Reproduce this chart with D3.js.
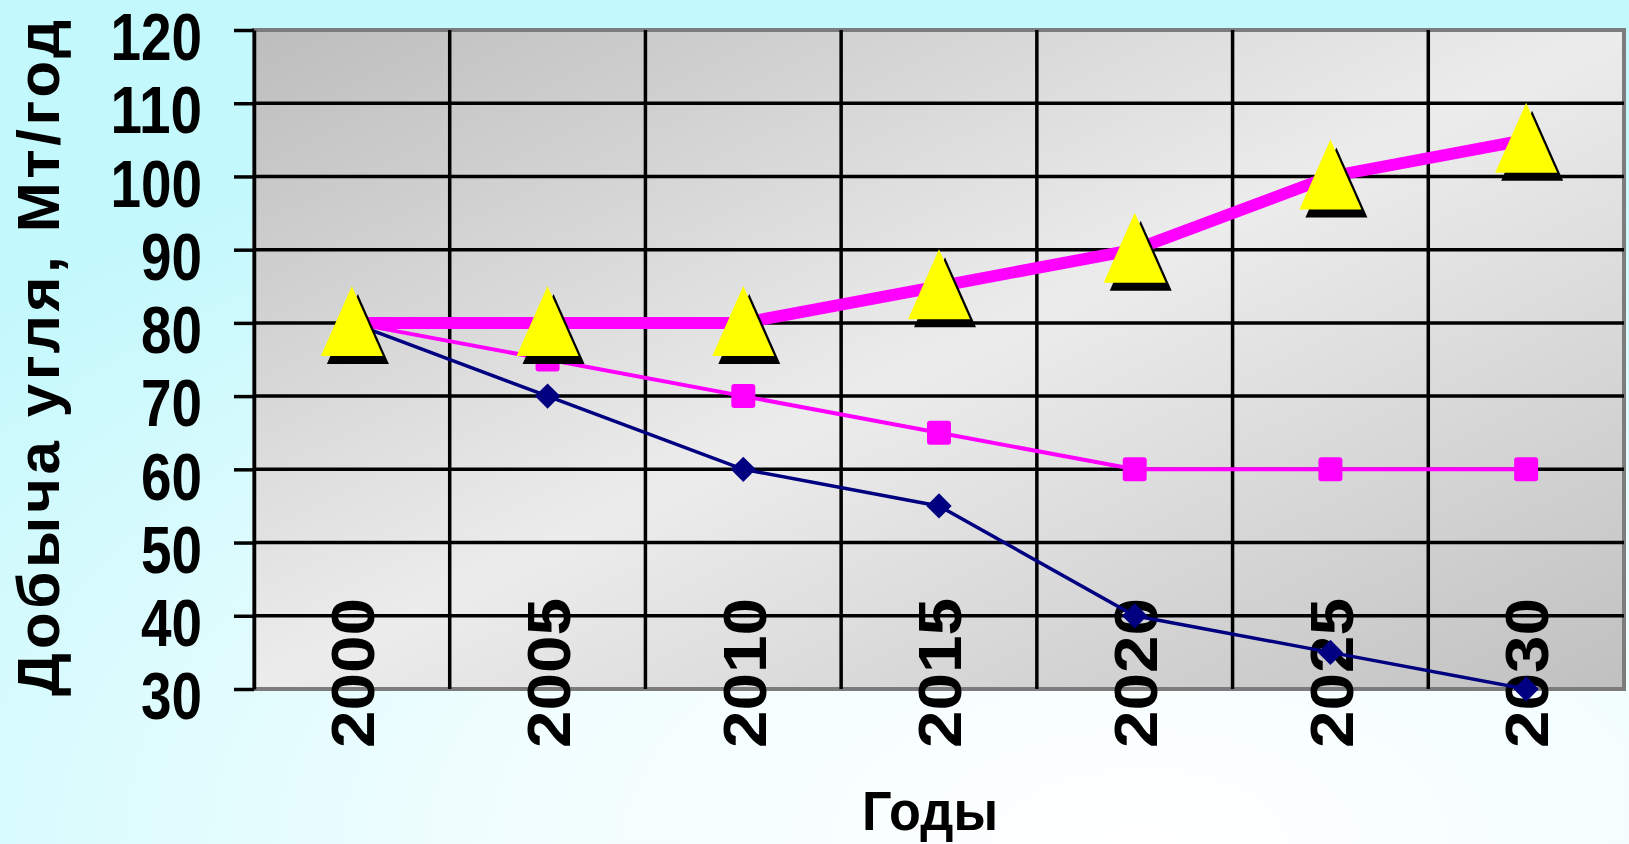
<!DOCTYPE html>
<html>
<head>
<meta charset="utf-8">
<script src="https://cdn.jsdelivr.net/npm/d3@7"></script>
<style>
  html, body { margin: 0; padding: 0; overflow: hidden; }
  svg { display: block; }
</style>
</head>
<body>
<div id="chart"></div>
<script>
// data
var years = ["2000", "2005", "2010", "2015", "2020", "2025", "2030"];
var seriesLow  = [80, 70, 60, 55, 40, 35, 30];     // navy, diamonds
var seriesMid  = [80, 75, 70, 65, 60, 60, 60];     // thin magenta, squares
var seriesHigh = [80, 80, 80, 85, 90, 100, 105];   // thick magenta, triangles
var yTicks = [30, 40, 50, 60, 70, 80, 90, 100, 110, 120];
var yTitle = "Добыча угля, Мт/год";
var xTitle = "Годы";

var W = 1629, H = 844;
var margin = {top: 30, right: 5, bottom: 155, left: 254},
    width = W - margin.left - margin.right,
    height = H - margin.top - margin.bottom;

var x = d3.scaleBand().domain(years).range([0, width]).padding(0);
var y = d3.scaleLinear().domain([30, 120]).range([height, 0]);
function cx(d, i) { return x(years[i]) + x.bandwidth() / 2; }

var svgRoot = d3.select("#chart").append("svg")
    .attr("width", W)
    .attr("height", H);

var defs = svgRoot.append("defs");
var bg = defs.append("radialGradient").attr("id", "bg")
    .attr("cx", 0.7).attr("cy", 1).attr("r", 0.95);
bg.append("stop").attr("offset", 0).attr("stop-color", "#ffffff");
bg.append("stop").attr("offset", 0.4).attr("stop-color", "#f2feff");
bg.append("stop").attr("offset", 1).attr("stop-color", "#c3f8fc");

var pg = defs.append("linearGradient").attr("id", "plotbg")
    .attr("x1", 0).attr("y1", 0).attr("x2", 1).attr("y2", 1);
pg.append("stop").attr("offset", 0).attr("stop-color", "#bdbdbd");
pg.append("stop").attr("offset", 0.5).attr("stop-color", "#ececec");
pg.append("stop").attr("offset", 1).attr("stop-color", "#c0c0c0");

svgRoot.append("rect").attr("width", W).attr("height", H).attr("fill", "url(#bg)");

var svg = svgRoot.append("g")
    .attr("transform", "translate(" + margin.left + "," + margin.top + ")");

// plot area
svg.append("rect")
    .attr("width", width).attr("height", height)
    .attr("fill", "url(#plotbg)")
    .attr("stroke", "#7c7c7c").attr("stroke-width", 4);

// grid
svg.append("g").selectAll("line.h")
    .data(yTicks.filter(function(t) { return t > 30 && t < 120; }))
    .enter().append("line")
    .attr("x1", 0).attr("x2", width)
    .attr("y1", function(d) { return y(d); }).attr("y2", function(d) { return y(d); })
    .attr("stroke", "#000").attr("stroke-width", 3.5);

svg.append("g").selectAll("line.v")
    .data(years.slice(1))
    .enter().append("line")
    .attr("x1", function(d) { return x(d); }).attr("x2", function(d) { return x(d); })
    .attr("y1", 0).attr("y2", height)
    .attr("stroke", "#000").attr("stroke-width", 3.5);

// y axis
var yAxis = svg.append("g")
    .call(d3.axisLeft(y).tickValues(yTicks).tickSize(20).tickSizeOuter(0).tickPadding(32));
yAxis.select(".domain").attr("stroke", "#000").attr("stroke-width", 3.5);
yAxis.selectAll(".tick line").attr("stroke", "#000").attr("stroke-width", 3.5);
// narrow look: squeeze each label to the reference width
yAxis.selectAll(".tick text")
    .attr("dy", "0.45em")
    .attr("fill", "#000")
    .attr("textLength", function(d) { return String(d).length * 30.5; })
    .attr("lengthAdjust", "spacingAndGlyphs")
    .style("font-family", "'Liberation Sans', Arial, sans-serif")
    .style("font-weight", "bold")
    .style("font-size", "66px");

// x axis labels, rotated
var xAxis = svg.append("g")
    .attr("transform", "translate(0," + height + ")")
    .call(d3.axisBottom(x).tickSize(0));
xAxis.select(".domain").remove();
xAxis.selectAll(".tick text")
    .attr("x", 0).attr("y", 0)
    .attr("dy", "0.36em")
    .attr("transform", "translate(0,59) rotate(-90)")
    .attr("text-anchor", "start")
    .attr("textLength", 150)
    .attr("lengthAdjust", "spacingAndGlyphs")
    .attr("fill", "#000")
    .style("font-family", "'Liberation Sans', Arial, sans-serif")
    .style("font-weight", "bold")
    .style("font-size", "62px");

// series lines
var line = d3.line().x(cx).y(function(d) { return y(d); });

svg.append("path").datum(seriesLow)
    .attr("d", line).attr("fill", "none")
    .attr("stroke", "#000080").attr("stroke-width", 3.5);
svg.append("g").selectAll("path")
    .data(seriesLow).enter().append("path")
    .attr("d", d3.symbol(d3.symbolSquare, 320))
    .attr("transform", function(d, i) { return "translate(" + cx(d, i) + "," + y(d) + ") rotate(45)"; })
    .attr("fill", "#000080");

svg.append("path").datum(seriesMid)
    .attr("d", line).attr("fill", "none")
    .attr("stroke", "#ff00ff").attr("stroke-width", 4);
svg.append("g").selectAll("rect")
    .data(seriesMid).enter().append("rect")
    .attr("x", function(d, i) { return cx(d, i) - 12; })
    .attr("y", function(d) { return y(d) - 12; })
    .attr("width", 24).attr("height", 24).attr("rx", 3)
    .attr("fill", "#ff00ff");

svg.append("path").datum(seriesHigh)
    .attr("d", line).attr("fill", "none")
    .attr("stroke", "#ff00ff").attr("stroke-width", 12);

var tri = "M0,-37L31,33L-31,33Z";
var triG = svg.append("g");
triG.selectAll("path.sh")
    .data(seriesHigh).enter().append("path")
    .attr("d", tri)
    .attr("transform", function(d, i) { return "translate(" + (cx(d, i) + 6) + "," + (y(d) + 8) + ")"; })
    .attr("fill", "#000");
triG.selectAll("path.tr")
    .data(seriesHigh).enter().append("path")
    .attr("d", tri)
    .attr("transform", function(d, i) { return "translate(" + cx(d, i) + "," + y(d) + ")"; })
    .attr("fill", "#ffff00");

// titles
svgRoot.append("text")
    .attr("transform", "translate(59,358) rotate(-90)")
    .attr("text-anchor", "middle")
    .attr("textLength", 676)
    .attr("lengthAdjust", "spacing")
    .style("font-family", "'Liberation Sans', Arial, sans-serif")
    .style("font-weight", "bold")
    .style("font-size", "60px")
    .text(yTitle);

svgRoot.append("text")
    .attr("x", 930).attr("y", 830)
    .attr("text-anchor", "middle")
    .attr("textLength", 136)
    .attr("lengthAdjust", "spacingAndGlyphs")
    .style("font-family", "'Liberation Sans', Arial, sans-serif")
    .style("font-weight", "bold")
    .style("font-size", "56px")
    .text(xTitle);
</script>
</body>
</html>
